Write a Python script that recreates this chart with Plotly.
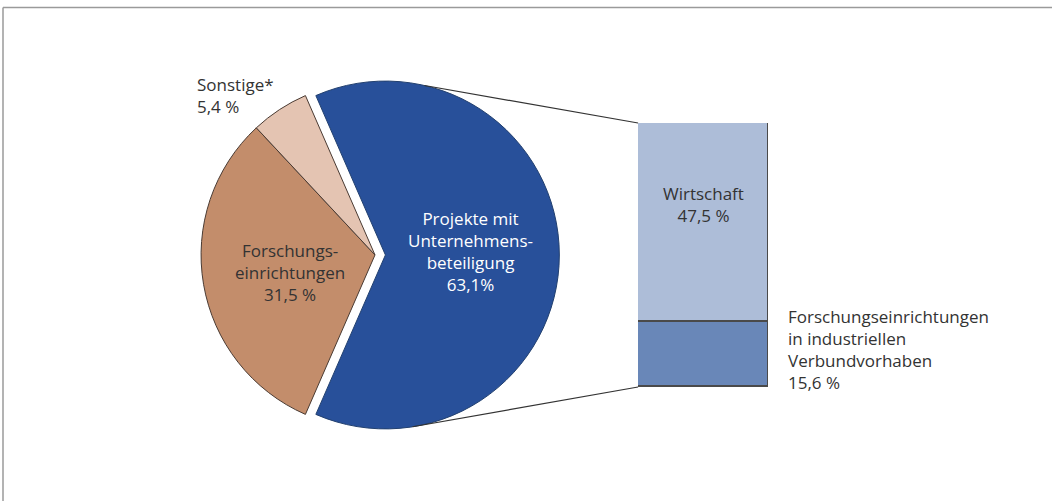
import math
import plotly.graph_objects as go

# pie data
pie_labels = ["Projekte mit<br>Unternehmens-<br>beteiligung", "Forschungs-<br>einrichtungen", "Sonstige*"]
pie_values = [63.1, 31.5, 5.4]
pie_pct_text = ["63,1%", "31,5 %", "5,4 %"]
pie_colors = ["#28509A", "#C38D6B", "#E4C4B2"]

# bar data (split of the blue slice)
bar_labels = ["Forschungseinrichtungen<br>in industriellen<br>Verbundvorhaben", "Wirtschaft"]
bar_values = [15.6, 47.5]
bar_pct_text = ["15,6 %", "47,5 %"]
bar_colors = ["#6987B8", "#ADBDD8"]

W, H = 1052, 501
FONT = "Open Sans"
FS = 17
TXT = "#333333"

# pie placement (paper coords)
pie_dom_x = [0.1812, 0.5317]
pie_dom_y = [0.1230, 0.8591]
pull = 0.06
# bar axis domains
bar_dom_x = [0.6065, 0.7300]
bar_dom_y = [0.2275, 0.7545]

total = sum(pie_values)
rotation = 90 - 360 * pie_values[0] / total / 2
bar_total = sum(bar_values)

fig = go.Figure()
fig.add_trace(go.Pie(
    values=pie_values, labels=[l.replace("<br>", " ") for l in pie_labels],
    sort=False, direction="clockwise", rotation=rotation,
    pull=[pull, 0, 0], textinfo="none", hoverinfo="label+percent",
    marker=dict(colors=pie_colors, line=dict(color=["#22406f", "#4a3b33", "#4a3b33"], width=1)),
    domain=dict(x=pie_dom_x, y=pie_dom_y), showlegend=False,
))

for lab, val, col in zip(bar_labels, bar_values, bar_colors):
    fig.add_trace(go.Bar(
        x=[0], y=[val], width=1, marker=dict(color=col, line=dict(color="#4a4a4a", width=1.5)),
        name=lab.replace("<br>", " "), showlegend=False, xaxis="x", yaxis="y",
    ))

fig.update_layout(
    width=W, height=H, margin=dict(l=0, r=0, t=0, b=0),
    paper_bgcolor="white", plot_bgcolor="rgba(0,0,0,0)",
    barmode="stack", bargap=0,
    font=dict(family=FONT, size=FS, color=TXT),
    xaxis=dict(domain=bar_dom_x, range=[-0.5, 0.5], visible=False, fixedrange=True),
    yaxis=dict(domain=bar_dom_y, range=[0, bar_total], visible=False, fixedrange=True),
)

# pie geometry in pixels, for connector lines
pw = (pie_dom_x[1] - pie_dom_x[0]) * W
ph = (pie_dom_y[1] - pie_dom_y[0]) * H
r = min(pw, ph) / 2 / (1 + pull)
cx = (pie_dom_x[0] + pie_dom_x[1]) / 2 * W
cy = (1 - (pie_dom_y[0] + pie_dom_y[1]) / 2) * H
bcx = cx + pull * r  # pulled blue slice centre


def paper(px, py):
    return px / W, 1 - py / H


# connector lines from blue slice to the bar corners
bar_left = bar_dom_x[0]
for ang, yb in [(13, bar_dom_y[1]), (171, bar_dom_y[0])]:
    a = math.radians(ang)
    x0, y0 = paper(bcx + r * math.sin(a), cy - r * math.cos(a))
    fig.add_shape(type="line", xref="paper", yref="paper", x0=x0, y0=y0, x1=bar_left, y1=yb,
                  line=dict(color="#333333", width=1.2))

# frame (top and left rules)
fig.add_shape(type="line", xref="paper", yref="paper", x0=3 / W, y0=1 - 7.5 / H, x1=1, y1=1 - 7.5 / H,
              line=dict(color="#9a9a9a", width=1.5))
fig.add_shape(type="line", xref="paper", yref="paper", x0=3 / W, y0=0, x1=3 / W, y1=1 - 7.5 / H,
              line=dict(color="#9a9a9a", width=1.5))


def label(px, py, text, anchor="center", color=TXT):
    ax, ay = paper(px, py)
    fig.add_annotation(x=ax, y=ay, xref="paper", yref="paper", showarrow=False,
                       align=anchor, xanchor=anchor, yanchor="middle",
                       text=text, font=dict(color=color, size=FS))


label(470, 251, pie_labels[0] + "<br>" + pie_pct_text[0], color="white")
label(290, 272, pie_labels[1] + "<br>" + pie_pct_text[1])
label(195, 95, pie_labels[2] + "<br>" + pie_pct_text[2], anchor="left")
label(703, 204, bar_labels[1] + "<br>" + bar_pct_text[1])
label(786, 349, bar_labels[0] + "<br>" + bar_pct_text[0], anchor="left")

fig.write_html("out.html", config={"displayModeBar": False},
               post_script="document.body.style.margin='0';")
